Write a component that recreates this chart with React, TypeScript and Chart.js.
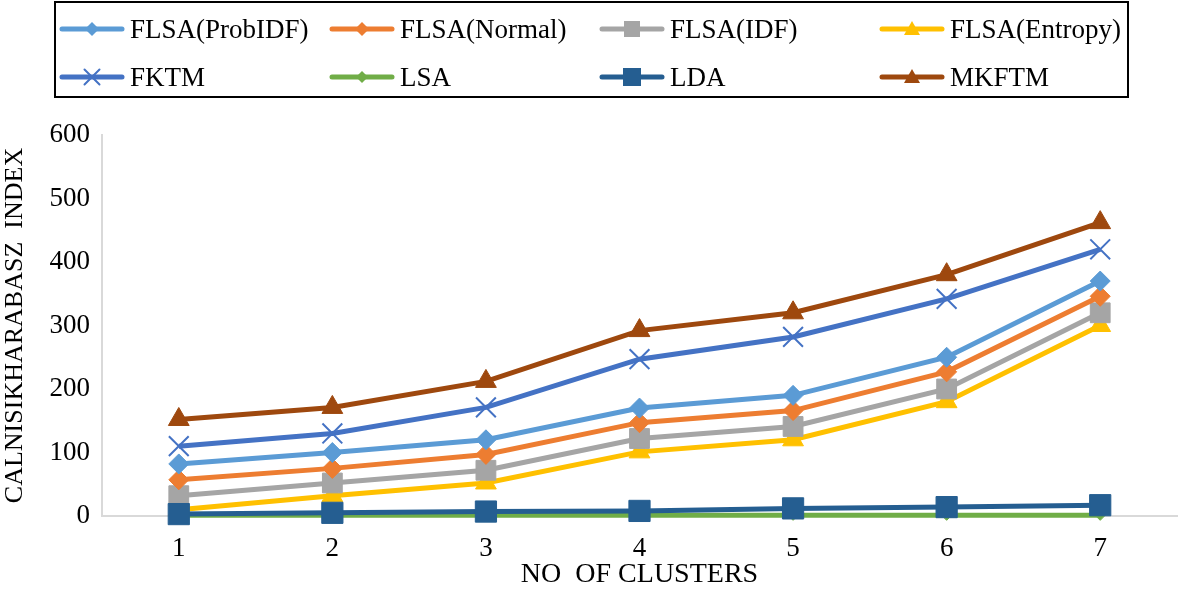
import React, { useEffect, useRef } from "react";
import { Chart, registerables } from "chart.js";
Chart.register(...registerables);

const categories = ["1", "2", "3", "4", "5", "6", "7"];
const seriesNames = ["FLSA(ProbIDF)", "FLSA(Normal)", "FLSA(IDF)", "FLSA(Entropy)", "FKTM", "LSA", "LDA", "MKFTM"];
const probIdf = [82, 100, 120, 170, 190, 250, 370];
const normal = [57, 75, 97, 147, 166, 227, 346];
const idf = [32, 52, 72, 122, 141, 200, 320];
const entropy = [10, 32, 52, 101, 120, 180, 300];
const fktm = [110, 130, 171, 247, 282, 342, 420];
const lsa = [1, 1, 1, 1, 1, 1, 1];
const lda = [3, 5, 7, 8, 12, 14, 17];
const mkftm = [152, 171, 212, 292, 320, 380, 462];
const yTicks = [0, 100, 200, 300, 400, 500, 600];

const colors = ["#5B9BD5", "#ED7D31", "#A5A5A5", "#FFC000", "#4472C4", "#70AD47", "#255E91", "#9E480E"];
const styles = ["rectRot", "rectRot", "rect", "triangle", "crossRot", "rectRot", "rect", "triangle"];
const radii = [10, 10, 14, 12, 14, 5, 15, 12];
const legendRadii = [7, 7, 8, 8, 10, 6, 9, 8];
const values = [probIdf, normal, idf, entropy, fktm, lsa, lda, mkftm];
const orders = [3, 4, 5, 6, 2, 7, 0, 1];

const FONT = "'Liberation Serif', 'Times New Roman', serif";

function drawPoint(ctx: CanvasRenderingContext2D, style: string, x: number, y: number, r: number) {
  ctx.beginPath();
  if (style === "rectRot") {
    ctx.moveTo(x, y - r);
    ctx.lineTo(x + r, y);
    ctx.lineTo(x, y + r);
    ctx.lineTo(x - r, y);
    ctx.closePath();
    ctx.fill();
  } else if (style === "rect") {
    ctx.rect(x - r, y - r, 2 * r, 2 * r);
    ctx.fill();
  } else if (style === "triangle") {
    ctx.moveTo(x, y - r);
    ctx.lineTo(x + r, y + r * 0.75);
    ctx.lineTo(x - r, y + r * 0.75);
    ctx.closePath();
    ctx.fill();
  } else if (style === "crossRot") {
    const s = r * 0.75;
    ctx.moveTo(x - s, y - s);
    ctx.lineTo(x + s, y + s);
    ctx.moveTo(x + s, y - s);
    ctx.lineTo(x - s, y + s);
    ctx.stroke();
  }
}

const legendPlugin = {
  id: "boxLegend",
  afterDraw(chart: any) {
    const ctx = chart.ctx;
    ctx.save();
    ctx.strokeStyle = "#000";
    ctx.lineWidth = 2;
    ctx.strokeRect(55, 2, 1073, 95);
    const cols = [60, 330, 600, 880];
    const rows = [29, 77];
    chart.data.datasets.forEach((ds: any, i: number) => {
      const x = cols[i % 4];
      const y = rows[Math.floor(i / 4)];
      ctx.strokeStyle = ds.borderColor;
      ctx.lineWidth = 5;
      ctx.lineCap = "round";
      ctx.beginPath();
      ctx.moveTo(x + 2, y);
      ctx.lineTo(x + 62, y);
      ctx.stroke();
      ctx.fillStyle = ds.backgroundColor;
      ctx.lineWidth = 2;
      drawPoint(ctx, styles[i], x + 32, y, legendRadii[i]);
      ctx.fillStyle = "#000";
      ctx.font = "27px " + FONT;
      ctx.textBaseline = "middle";
      ctx.textAlign = "left";
      ctx.fillText(ds.label, x + 70, y + 2);
    });
    ctx.restore();
  },
};

export default function App() {
  const ref = useRef<HTMLCanvasElement>(null);
  useEffect(() => {
    document.body.style.margin = "0";
    const chart = new Chart(ref.current!, {
      type: "line",
      data: {
        labels: categories,
        datasets: seriesNames.map((name, i) => ({
          label: name,
          data: values[i],
          borderColor: colors[i],
          backgroundColor: colors[i],
          pointBackgroundColor: colors[i],
          pointBorderColor: colors[i],
          pointStyle: styles[i] as any,
          pointRadius: radii[i],
          pointBorderWidth: styles[i] === "crossRot" ? 2 : 1,
          borderWidth: 5,
          tension: 0,
          order: orders[i],
          clip: false as any,
        })),
      },
      options: {
        animation: false,
        responsive: false,
        layout: { autoPadding: false, padding: { top: 135, right: 2, left: 0, bottom: 2 } },
        plugins: { legend: { display: false }, tooltip: { enabled: false } },
        scales: {
          x: {
            offset: true,
            afterFit: (scale: any) => {
              scale.height = 80;
            },
            grid: { display: false, drawTicks: false },
            border: { color: "#D9D9D9", width: 2 },
            ticks: { color: "#000", font: { family: FONT, size: 27 }, padding: 17 },
            title: { display: true, text: "NO  OF CLUSTERS", color: "#000", font: { family: FONT, size: 28 }, padding: { top: 0, bottom: 5 } },
          },
          y: {
            min: 0,
            max: 600,
            afterBuildTicks: (axis: any) => {
              axis.ticks = yTicks.map((v) => ({ value: v }));
            },
            afterFit: (scale: any) => {
              scale.width = 102;
            },
            grid: { display: false, drawTicks: false },
            border: { color: "#D9D9D9", width: 2 },
            ticks: { color: "#000", font: { family: FONT, size: 27 }, padding: 12 },
            title: { display: true, text: "CALNISIKHARABASZ  INDEX", color: "#000", font: { family: FONT, size: 26 }, padding: { top: 0, bottom: 6 } },
          },
        },
      },
      plugins: [legendPlugin],
    });
    return () => chart.destroy();
  }, []);
  return <canvas ref={ref} width={1179} height={598} style={{ display: "block" }} />;
}
